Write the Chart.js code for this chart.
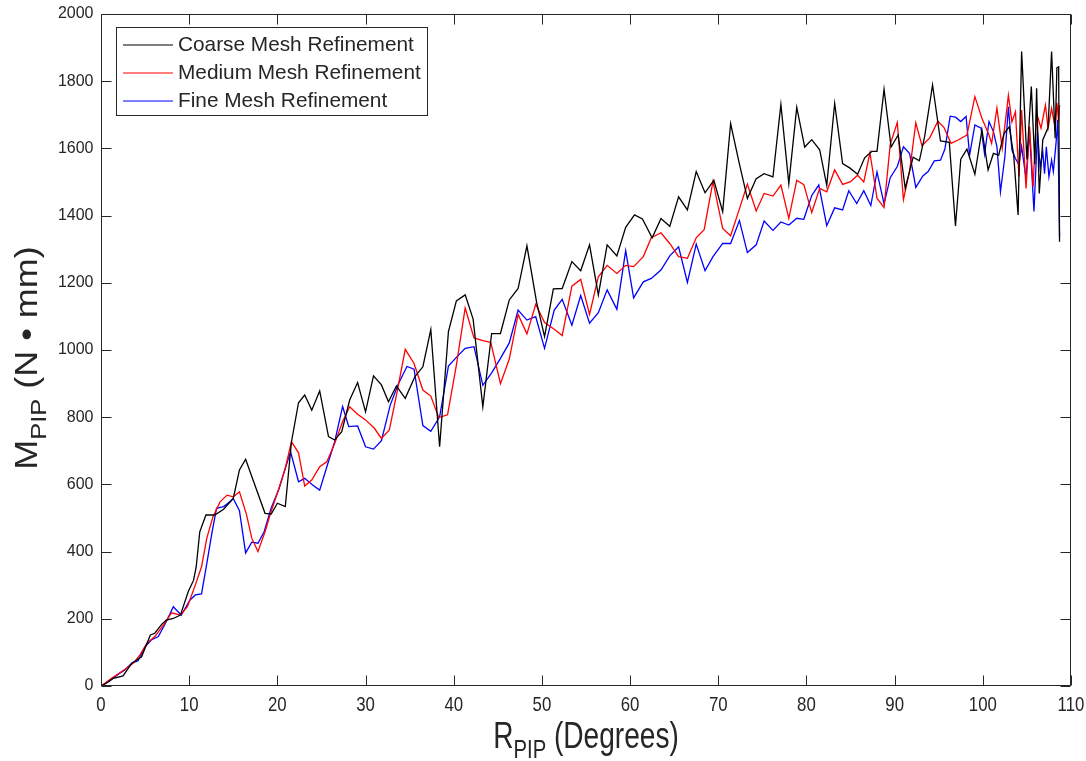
<!DOCTYPE html>
<html>
<head>
<meta charset="utf-8">
<script src="https://cdn.jsdelivr.net/npm/chart.js@4.4.1/dist/chart.umd.min.js"></script>
<style>
  html, body { margin: 0; padding: 0; background: #ffffff; }
  #wrap { width: 1086px; height: 761px; position: relative; }
</style>
</head>
<body>
<div id="wrap"><canvas id="chart"></canvas></div>
<script>
// Axis ticks
const xTicks = [0, 10, 20, 30, 40, 50, 60, 70, 80, 90, 100, 110];
const yTicks = [0, 200, 400, 600, 800, 1000, 1200, 1400, 1600, 1800, 2000];

// Series names
const seriesNames = ['Coarse Mesh Refinement', 'Medium Mesh Refinement', 'Fine Mesh Refinement'];

// PIP rotation (degrees) vs. PIP moment (N·mm), one [rotation, moment] pair per sample
const coarse = [
  [0,0],[0.6,8],[1.4,23],[2.5,30],[3.5,68],[4.6,87],[5.6,152],[6.1,157],[6.9,184],[7.4,196],
  [8.2,201],[9.0,211],[9.9,281],[10.5,315],[10.8,355],[11.2,459],[11.9,509],[12.9,509],[13.9,526],[15.0,558],
  [15.7,643],[16.4,675],[18.6,514],[19.3,512],[20.0,544],[20.9,534],[21.6,727],[22.4,843],[23.1,866],[23.9,821],
  [24.8,878],[25.8,742],[26.5,732],[27.3,757],[28.2,851],[29.1,903],[30.0,816],[30.9,923],[31.8,896],[32.6,846],
  [33.5,893],[34.5,856],[35.6,921],[36.5,950],[37.4,1061],[38.4,712],[39.4,1055],[40.3,1146],[41.3,1164],[42.2,1092],
  [43.3,831],[44.3,1049],[45.3,1049],[46.3,1149],[47.3,1183],[48.3,1310],[49.4,1142],[50.3,1040],[51.3,1182],[52.3,1183],
  [53.4,1263],[54.4,1236],[55.4,1313],[56.4,1164],[57.4,1313],[58.5,1280],[59.5,1365],[60.5,1402],[61.4,1390],[62.5,1334],
  [63.5,1391],[64.5,1368],[65.5,1456],[66.5,1417],[67.5,1531],[68.5,1468],[69.5,1505],[70.5,1412],[71.4,1674],[72.4,1553],
  [73.3,1451],[74.3,1510],[75.2,1525],[76.2,1515],[77.1,1731],[78.0,1495],[78.9,1722],[79.8,1604],[80.6,1626],[81.5,1596],
  [82.3,1490],[83.2,1734],[84.1,1555],[84.9,1542],[85.8,1523],[86.6,1572],[87.4,1591],[88.0,1591],[88.8,1776],[89.6,1604],
  [90.4,1640],[91.2,1481],[92.1,1574],[92.8,1563],[93.4,1635],[94.3,1789],[95.2,1622],[96.2,1618],[96.9,1369],[97.5,1568],
  [98.2,1598],[99.1,1523],[99.9,1655],[100.6,1536],[101.2,1585],[101.8,1580],[102.4,1644],[103.0,1664],[103.5,1580],[104.0,1402],
  [104.4,1888],[105.0,1567],[105.5,1784],[105.9,1553],[106.1,1779],[106.4,1466],[106.8,1625],[107.4,1662],[107.8,1888],[108.2,1630],
  [108.4,1840],[108.6,1843],[108.7,1322]
];

const medium = [
  [0,0],[1.2,23],[2.2,40],[2.9,53],[3.7,69],[4.4,92],[5.2,127],[6.1,147],[7.1,182],[8.0,218],
  [9.0,211],[9.8,236],[10.7,301],[11.4,355],[12.0,440],[12.7,504],[13.5,548],[14.3,568],[15.0,563],[15.7,578],
  [16.5,510],[17.1,440],[17.8,400],[18.6,459],[19.3,520],[20.2,590],[20.9,648],[21.6,727],[22.4,694],[23.1,595],
  [23.9,613],[24.8,653],[25.6,667],[26.5,722],[27.4,787],[28.2,831],[29.1,809],[30.0,792],[31.0,767],[31.8,737],
  [32.7,762],[33.6,878],[34.5,1002],[35.5,960],[36.5,881],[37.4,863],[38.3,799],[39.3,807],[40.3,955],[41.3,1125],
  [42.3,1036],[43.3,1028],[44.2,1023],[45.3,900],[46.3,973],[47.3,1106],[48.3,1048],[49.3,1136],[50.3,1082],[51.4,1062],
  [52.3,1043],[53.4,1190],[54.4,1210],[55.4,1106],[56.4,1218],[57.4,1252],[58.5,1228],[59.5,1252],[60.4,1248],[61.5,1278],
  [62.4,1334],[63.5,1349],[64.5,1317],[65.5,1278],[66.5,1273],[67.5,1334],[68.4,1358],[69.4,1502],[70.5,1362],[71.4,1340],
  [72.4,1420],[73.3,1494],[74.3,1414],[75.2,1466],[76.2,1458],[77.1,1491],[78.0,1392],[78.9,1505],[79.7,1492],[80.6,1409],
  [81.5,1481],[82.3,1471],[83.2,1536],[84.1,1493],[85.0,1501],[85.8,1520],[86.5,1500],[87.2,1587],[88.0,1452],[88.8,1424],
  [89.5,1612],[90.3,1677],[91.0,1448],[91.7,1533],[92.4,1676],[93.1,1608],[94.0,1632],[94.9,1681],[95.6,1662],[96.4,1615],
  [97.2,1625],[98.2,1640],[99.1,1754],[99.9,1690],[100.7,1640],[101.0,1615],[101.6,1720],[102.2,1600],[102.9,1758],[103.3,1679],
  [103.7,1709],[104.1,1516],[104.4,1714],[104.9,1481],[105.3,1665],[105.7,1486],[106.1,1705],[106.6,1660],[107.1,1729],[107.4,1660],
  [107.8,1719],[108.2,1662],[108.4,1736],[108.6,1680],[108.7,1729]
];

const fine = [
  [0,0],[1.0,16],[2.0,36],[2.7,48],[3.5,68],[4.2,75],[5.0,117],[5.7,137],[6.5,147],[7.4,191],
  [8.2,236],[9.1,211],[10.1,256],[10.7,271],[11.4,274],[12.0,365],[12.6,459],[13.1,529],[13.9,534],[14.4,544],
  [15.0,558],[15.7,522],[16.4,396],[17.1,428],[17.8,425],[18.5,459],[19.3,530],[20.2,588],[20.9,648],[21.5,697],
  [22.4,608],[23.1,618],[24.0,598],[24.8,583],[25.7,660],[26.5,727],[27.4,832],[28.1,772],[29.1,774],[30.0,712],
  [30.9,705],[31.8,730],[32.8,836],[33.7,898],[34.7,951],[35.5,943],[36.5,775],[37.4,758],[38.4,801],[39.4,952],
  [40.3,978],[41.3,1005],[42.3,1010],[43.3,895],[44.3,932],[45.3,975],[46.3,1021],[47.3,1119],[48.3,1089],[49.3,1099],
  [50.3,1005],[51.4,1119],[52.3,1151],[53.4,1074],[54.4,1162],[55.4,1080],[56.4,1111],[57.4,1179],[58.5,1121],[59.5,1296],
  [60.4,1155],[61.5,1203],[62.4,1213],[63.5,1238],[64.5,1280],[65.5,1307],[66.5,1201],[67.5,1315],[68.5,1236],[69.4,1278],
  [70.5,1317],[71.4,1317],[72.4,1385],[73.3,1290],[74.3,1313],[75.2,1384],[76.2,1356],[77.1,1381],[78.0,1372],[78.9,1392],
  [79.7,1389],[80.6,1460],[81.4,1491],[82.3,1370],[83.2,1423],[84.1,1417],[84.8,1474],[85.7,1436],[86.5,1474],[87.3,1430],
  [88.0,1530],[88.8,1435],[89.5,1513],[90.3,1546],[91.0,1605],[91.7,1585],[92.4,1484],[93.2,1518],[93.8,1531],[94.5,1563],
  [95.2,1565],[95.7,1598],[96.3,1696],[96.9,1693],[97.5,1680],[98.1,1695],[98.5,1580],[99.1,1670],[99.8,1660],[100.2,1583],
  [100.7,1680],[101.2,1650],[101.6,1605],[102.0,1471],[102.5,1575],[102.9,1724],[103.3,1595],[103.7,1570],[104.1,1551],[104.4,1605],
  [104.9,1511],[105.3,1650],[105.8,1412],[106.2,1650],[106.5,1545],[106.8,1590],[107.0,1525],[107.2,1605],[107.5,1516],[107.8,1565],
  [108.0,1531],[108.3,1615],[108.5,1685],[108.7,1337]
];

const seriesColors = ['#000000', '#ff0000', '#0000ff'];
const axisInk = '#262626';
const FONT = '"Liberation Sans", Arial, Helvetica, sans-serif';

const toPoints = pts => pts.map(([x, y]) => ({ x, y }));

// Draws a run of text pieces (with subscripts) starting at the current origin.
function drawPieces(ctx, pieces, align) {
  let total = 0;
  const widths = pieces.map(p => {
    ctx.font = p.size + 'px ' + FONT;
    const w = ctx.measureText(p.text).width;
    total += w;
    return w;
  });
  let cur = align === 'center' ? -total / 2 : 0;
  pieces.forEach((p, i) => {
    ctx.font = p.size + 'px ' + FONT;
    ctx.textAlign = 'left';
    ctx.textBaseline = 'alphabetic';
    ctx.fillText(p.text, cur, p.dy || 0);
    cur += widths[i];
  });
}

// MATLAB-style frame: boxed axes, inward ticks, tick labels, titles and legend
const framePlugin = {
  id: 'frame',
  afterDraw(chart) {
    const { ctx, chartArea: a } = chart;
    const xs = chart.scales.x, ys = chart.scales.y;
    const L = Math.round(a.left) + 0.5, R = Math.round(a.right) - 0.5;
    const T = Math.round(a.top) + 0.5, B = Math.round(a.bottom) - 0.5;
    const tick = 10;

    ctx.save();
    ctx.strokeStyle = axisInk;
    ctx.fillStyle = axisInk;
    ctx.lineWidth = 1;

    ctx.beginPath();
    ctx.rect(L, T, R - L, B - T);
    ctx.stroke();

    ctx.beginPath();
    xTicks.forEach(v => {
      const px = Math.round(xs.getPixelForValue(v)) + 0.5;
      ctx.moveTo(px, B); ctx.lineTo(px, B - tick);
      ctx.moveTo(px, T); ctx.lineTo(px, T + tick);
    });
    yTicks.forEach(v => {
      const py = Math.round(ys.getPixelForValue(v)) + 0.5;
      ctx.moveTo(L, py); ctx.lineTo(L + tick, py);
      ctx.moveTo(R, py); ctx.lineTo(R - tick, py);
    });
    ctx.stroke();

    // y tick labels
    ctx.font = '16px ' + FONT;
    ctx.textAlign = 'right';
    ctx.textBaseline = 'middle';
    yTicks.forEach(v => {
      ctx.fillText(String(v), L - 8, ys.getPixelForValue(v));
    });

    // x tick labels (narrow set)
    xTicks.forEach(v => {
      ctx.save();
      ctx.translate(xs.getPixelForValue(v), a.bottom + 19);
      ctx.scale(0.8, 1);
      ctx.font = '21px ' + FONT;
      ctx.textAlign = 'center';
      ctx.textBaseline = 'middle';
      ctx.fillText(String(v), 0, 0);
      ctx.restore();
    });

    // x axis title
    ctx.save();
    ctx.translate((a.left + a.right) / 2, a.bottom + 62);
    ctx.scale(0.78, 1);
    drawPieces(ctx, [
      { text: 'R', size: 36 },
      { text: 'PIP', size: 26, dy: 10 },
      { text: ' (Degrees)', size: 36 }
    ], 'center');
    ctx.restore();

    // y axis title
    ctx.save();
    ctx.translate(37, (a.top + a.bottom) / 2 + 8);
    ctx.rotate(-Math.PI / 2);
    ctx.scale(1.16, 1);
    drawPieces(ctx, [
      { text: 'M', size: 31 },
      { text: 'PIP', size: 22, dy: 9 },
      { text: ' (N \u2022 mm)', size: 31 }
    ], 'center');
    ctx.restore();

    // legend
    const lg = { x: 116.5, y: 27.5, w: 311, h: 88 };
    ctx.fillStyle = '#ffffff';
    ctx.fillRect(lg.x, lg.y, lg.w, lg.h);
    ctx.strokeStyle = axisInk;
    ctx.strokeRect(lg.x, lg.y, lg.w, lg.h);
    chart.data.datasets.forEach((ds, i) => {
      const cy = 45 + i * 28;
      ctx.strokeStyle = ds.borderColor;
      ctx.lineWidth = 1.2;
      ctx.beginPath();
      ctx.moveTo(123, cy); ctx.lineTo(173, cy);
      ctx.stroke();
      ctx.fillStyle = axisInk;
      ctx.font = '20.8px ' + FONT;
      ctx.textAlign = 'left';
      ctx.textBaseline = 'middle';
      ctx.fillText(ds.label, 178, cy);
    });

    ctx.restore();
  }
};

new Chart(document.getElementById('chart'), {
  type: 'line',
  data: {
    datasets: [coarse, medium, fine].map((pts, i) => ({
      label: seriesNames[i],
      data: toPoints(pts),
      borderColor: seriesColors[i],
      backgroundColor: seriesColors[i],
      borderWidth: 1.3,
      pointRadius: 0,
      tension: 0,
      fill: false
    }))
  },
  options: {
    responsive: true,
    maintainAspectRatio: false,
    animation: false,
    layout: { padding: { left: 101, right: 15, top: 14, bottom: 75 } },
    plugins: { legend: { display: false }, tooltip: { enabled: false } },
    scales: {
      x: { type: 'linear', min: 0, max: 110, display: false },
      y: { type: 'linear', min: 0, max: 2000, display: false }
    }
  },
  plugins: [framePlugin]
});
</script>
</body>
</html>
